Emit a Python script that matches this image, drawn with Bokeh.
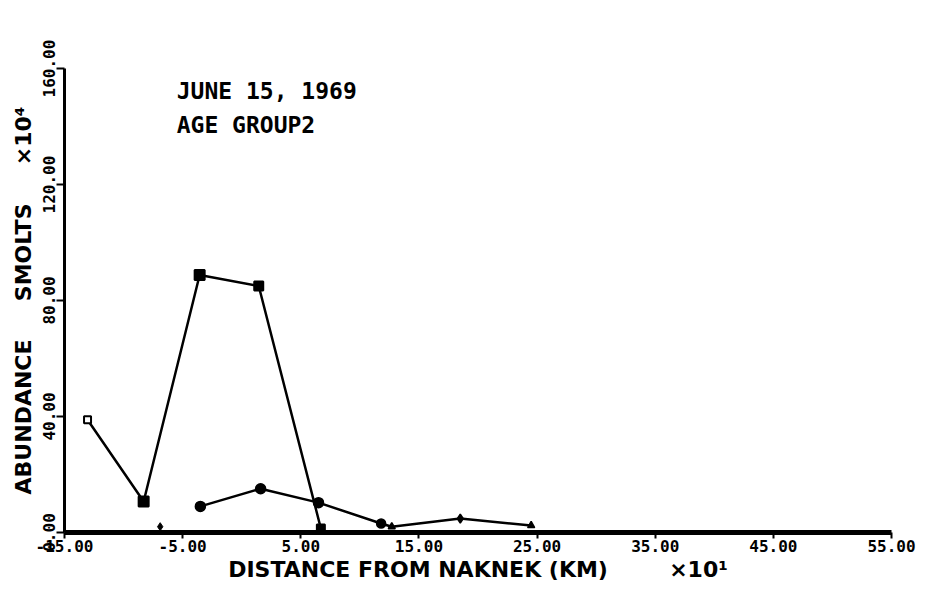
from bokeh.plotting import figure
from bokeh.models import FixedTicker, PrintfTickFormatter, Label, ColumnDataSource
from bokeh.embed import file_html
from bokeh.resources import INLINE

# Series A (squares)
a_x = [-13.05, -8.3, -3.56, 1.44, 6.7]
a_y = [38.9, 10.7, 88.8, 85.0, 1.4]
a_marker = ["square", "square", "square", "square", "square"]
a_fill = ["white", "black", "black", "black", "black"]
a_size = [7, 10, 10, 9, 8]

# Series B (circles / small symbols)
b_x = [-3.5, 1.6, 6.5, 11.8, 12.7, 18.5, 24.5]
b_y = [9.0, 15.1, 10.3, 3.1, 2.0, 4.8, 2.4]
b_marker = ["circle", "circle", "circle", "circle", "triangle", "diamond", "triangle"]
b_size = [10, 10, 10, 9, 7, 9, 7]

# isolated point
c_x = [-6.9]
c_y = [2.0]

x_ticks = [-15, -5, 5, 15, 25, 35, 45, 55]
y_ticks = [0, 40, 80, 120, 160]

title_lines = ["JUNE 15, 1969", "AGE GROUP2"]
NB = "\u00a0"
x_label = "DISTANCE FROM NAKNEK (KM)" + NB * 8 + "\u00d710\u00b9"
y_label = "ABUNDANCE" + NB * 5 + "SMOLTS" + NB * 5 + "\u00d710\u2074"

MONO = "DejaVu Sans Mono"
SANS = "DejaVu Sans"

p = figure(width=930, height=584, x_range=(-15, 55), y_range=(0, 160),
           output_backend="svg", toolbar_location=None,
           min_border_left=64, min_border_top=68, min_border_right=39,
           min_border_bottom=51)
p.grid.visible = False
p.outline_line_color = None
p.background_fill_color = "white"
p.border_fill_color = "white"

for ax in (p.xaxis[0], p.yaxis[0]):
    ax.axis_line_color = "black"
    ax.major_tick_line_color = "black"
    ax.major_tick_line_width = 2
    ax.minor_tick_line_color = None
    ax.major_tick_in = 0
    ax.major_label_text_font = MONO
    ax.major_label_text_font_style = "bold"
    ax.major_label_text_font_size = "16px"
    ax.major_label_text_color = "black"
    ax.axis_label_text_font = SANS
    ax.axis_label_text_font_style = "bold"
    ax.axis_label_text_font_size = "22px"
    ax.axis_label_text_color = "black"
    ax.formatter = PrintfTickFormatter(format="%.2f")

p.xaxis.ticker = FixedTicker(ticks=x_ticks)
p.yaxis.ticker = FixedTicker(ticks=y_ticks)
p.xaxis.axis_line_width = 5
p.yaxis.axis_line_width = 3
p.xaxis.major_tick_out = 6
p.yaxis.major_tick_out = 8
p.xaxis.major_label_standoff = 1
p.yaxis.major_label_standoff = 2
p.xaxis.axis_label_standoff = 2
p.yaxis.axis_label_standoff = 4
p.yaxis.major_label_orientation = "vertical"
p.xaxis.axis_label = x_label
p.yaxis.axis_label = y_label

src_a = ColumnDataSource(dict(x=a_x, y=a_y, m=a_marker, f=a_fill, s=a_size))
src_b = ColumnDataSource(dict(x=b_x, y=b_y, m=b_marker, s=b_size))

p.line(a_x, a_y, line_color="black", line_width=2.5)
p.scatter("x", "y", marker="m", size="s", fill_color="f", line_color="black",
          line_width=2, source=src_a)
p.line(b_x, b_y, line_color="black", line_width=2.5)
p.scatter("x", "y", marker="m", size="s", fill_color="black", line_color="black",
          line_width=1.5, source=src_b)
p.scatter(c_x, c_y, marker="diamond", size=8, fill_color="black", line_color="black")

p.add_layout(Label(x=-5.5, y=152.4, text=title_lines[0], text_font=MONO,
                   text_font_size="23px", text_font_style="bold", text_color="black",
                   text_baseline="alphabetic"))
p.add_layout(Label(x=-5.5, y=140.4, text=title_lines[1], text_font=MONO,
                   text_font_size="23px", text_font_style="bold", text_color="black",
                   text_baseline="alphabetic"))

open("out.html", "w").write(file_html(p, INLINE))
